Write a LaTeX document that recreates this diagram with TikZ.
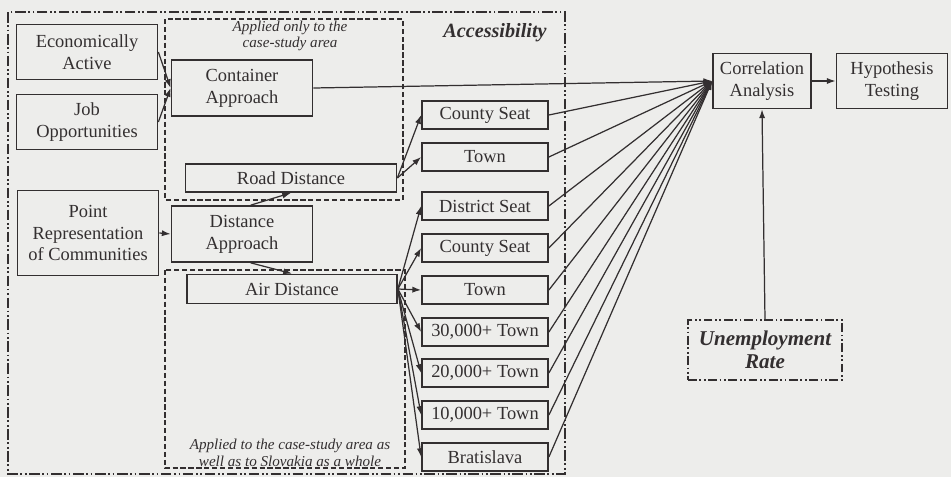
\documentclass[tikz,border=0pt]{standalone}
\usepackage{fontspec}
\setmainfont{Liberation Serif}
\usetikzlibrary{arrows.meta}
\definecolor{ink}{HTML}{332F30}
\definecolor{paper}{HTML}{EDEDEB}
\tikzset{
	box/.style={draw=ink,line width=1pt,text=ink,align=center,inner sep=1pt,font=\fontsize{10.5}{12.5}\selectfont},
	goal/.style={box,minimum width=2.52cm,minimum height=0.56cm},
	unempbox/.style={draw=ink,line width=0.9pt,dash pattern=on 5pt off 1.5pt on 1pt off 1.5pt on 1pt off 1.5pt,text=ink,align=center,font=\fontsize{12}{13}\selectfont\bfseries\itshape,minimum width=3.08cm,minimum height=1.2cm},
	accbox/.style={draw=ink,line width=0.9pt,dash pattern=on 6pt off 1.5pt on 1pt off 1.5pt on 1pt off 1.5pt},
	areabox/.style={draw=ink,line width=0.9pt,dash pattern=on 3pt off 1.5pt},
	note/.style={text=ink,align=center,font=\fontsize{8.6}{9.5}\selectfont\itshape},
	arr/.style={draw=ink,line width=0.7pt,-{Latex[length=5pt,width=3.5pt]}}
}

\begin{document}
\begin{tikzpicture}[x=0.02cm,y=-0.02cm]
	\fill[paper] (0,0) rectangle (951,477);
	\useasboundingbox (0,0) rectangle (951,477);

	\draw[accbox] (8,12) rectangle (565,474);
	\draw[areabox] (165,19) rectangle (403,200);
	\draw[areabox] (165,270) rectangle (405,468);
	\node[text=ink,font=\fontsize{11.5}{13}\selectfont\bfseries\itshape] (lblacc) at (495,33) {Accessibility};
	\node[note] (lblcase) at (290,36) {Applied only to the\\case-study area};
	\node[note] (lblslov) at (290,453) {Applied to the case-study area as\\well as to Slovakia as a whole};

	\node[box,minimum width=2.82cm,minimum height=1.1cm] (econ) at (87,52) {Economically\\Active};
	\node[box,minimum width=2.82cm,minimum height=1.1cm] (jobs) at (87,122) {Job\\Opportunities};
	\node[box,minimum width=2.82cm,minimum height=1.7cm] (point) at (88,233) {Point\\Representation\\of Communities};
	\node[box,minimum width=2.82cm,minimum height=1.12cm] (contapp) at (242,88) {Container\\Approach};
	\node[box,minimum width=4.22cm,minimum height=0.56cm] (roaddist) at (291,178) {Road Distance};
	\node[box,minimum width=2.82cm,minimum height=1.12cm] (distapp) at (242,234) {Distance\\Approach};
	\node[box,minimum width=4.2cm,minimum height=0.58cm] (airdist) at (292,289) {Air Distance};

	\node[goal] (rcounty) at (485,115) {County Seat};
	\node[goal] (rtown) at (485,157) {Town};
	\node[goal] (adistrict) at (485,206) {District Seat};
	\node[goal] (acounty) at (485,248) {County Seat};
	\node[goal] (atown) at (485,290) {Town};
	\node[goal] (athirty) at (485,332) {30,000+ Town};
	\node[goal] (atwenty) at (485,373) {20,000+ Town};
	\node[goal] (aten) at (485,415) {10,000+ Town};
	\node[goal] (abrat) at (485,457) {Bratislava};

	\node[box,minimum width=1.96cm,minimum height=1.1cm] (corr) at (762,81) {Correlation\\Analysis};
	\node[box,minimum width=2.22cm,minimum height=1.1cm] (hypo) at (892,81) {Hypothesis\\Testing};
	\node[unempbox] (unemp) at (765,350) {Unemployment\\Rate};

	\draw[arr] (econ.east) -- (contapp.west);
	\draw[arr] (jobs.east) -- (contapp.west);
	\draw[arr] (point.east) -- (distapp.west);
	\draw[arr] ([xshift=5]distapp.north) -- (roaddist.south);
	\draw[arr] ([xshift=5]distapp.south) -- (airdist.north);
	\foreach \t in {rcounty,rtown}
		\draw[arr] (roaddist.east) -- (\t.west);
	\foreach \t in {adistrict,acounty,atown,athirty,atwenty,aten,abrat}
		\draw[arr] (airdist.east) -- (\t.west);
	\draw[arr] (contapp.east) -- (corr.west);
	\foreach \t in {rcounty,rtown,adistrict,acounty,atown,athirty,atwenty,aten,abrat}
		\draw[arr] (\t.east) -- (corr.west);
	\draw[arr] (corr.east) -- (hypo.west);
	\draw[arr] (unemp.north) -- (corr.south);
\end{tikzpicture}
\end{document}
